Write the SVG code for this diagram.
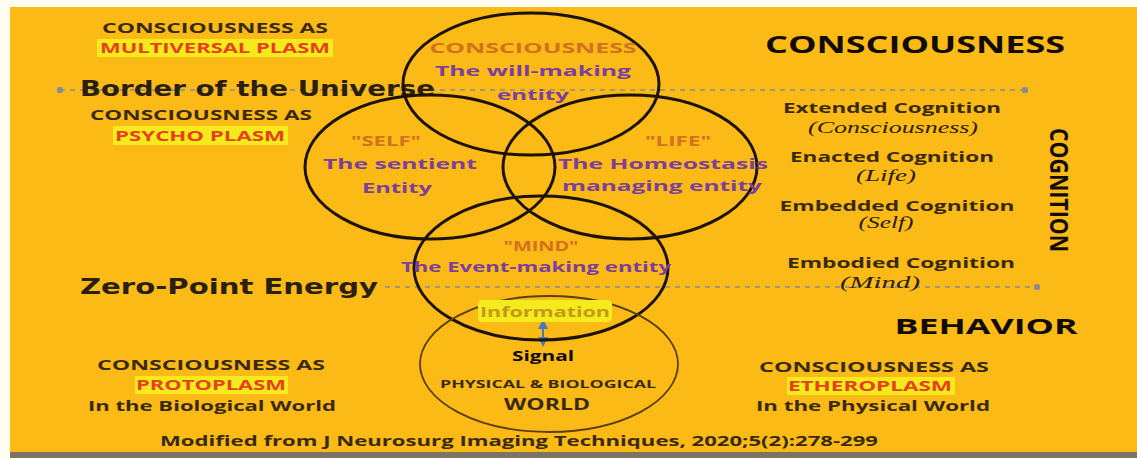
<svg xmlns="http://www.w3.org/2000/svg" width="1137" height="458" viewBox="0 0 1137 458">
<defs>
<style>
.b{font-family:"Open Sans","Liberation Sans",sans-serif;font-weight:bold;fill:#3a2a0c;text-anchor:middle}
.h{font-family:"Open Sans","Liberation Sans",sans-serif;font-weight:bold;fill:#120c04;text-anchor:middle}
.r{font-family:"Open Sans","Liberation Sans",sans-serif;font-weight:bold;fill:#e8401c;text-anchor:middle}
.o{font-family:"Open Sans","Liberation Sans",sans-serif;font-weight:bold;fill:#d2711e;text-anchor:middle}
.p{font-family:"Open Sans","Liberation Sans",sans-serif;font-weight:bold;fill:#7b3f9c;text-anchor:middle}
.i{font-family:"Liberation Serif",serif;font-style:italic;fill:#2a1e08;text-anchor:middle}
.hw{font-family:"DejaVu Sans","Liberation Sans",sans-serif;font-weight:bold;fill:#2a2010}
.hl{fill:#f4ea1c}
.ring{fill:none;stroke:#1c1208;stroke-width:3}
.dash{fill:none;stroke:#8c8a94;stroke-width:1.6;stroke-dasharray:5 5}
</style>
<marker id="dot" viewBox="0 0 6 6" refX="3" refY="3" markerWidth="4" markerHeight="4"><circle cx="3" cy="3" r="3" fill="#8c8a94"/></marker>
<marker id="ah" viewBox="0 0 10 10" refX="5" refY="5" markerWidth="5" markerHeight="5" orient="auto-start-reverse"><path d="M0,0 L10,5 L0,10 z" fill="#4a78b8"/></marker>
</defs>
<rect x="0" y="0" width="1137" height="458" fill="#fffdf2"/>
<rect x="10" y="7" width="1127" height="446" fill="#fbba16"/>
<rect x="10" y="452" width="1127" height="6" fill="#7c7462"/>

<g id="connectors">
<line class="dash" x1="60" y1="90" x2="1025" y2="90" marker-start="url(#dot)" marker-end="url(#dot)"/>
<line class="dash" x1="385" y1="287" x2="1037" y2="287" marker-end="url(#dot)"/>
<line x1="543" y1="324" x2="543" y2="342" stroke="#4a78b8" stroke-width="2" marker-start="url(#ah)" marker-end="url(#ah)"/>
</g>

<g id="labels-left">
<text class="b" x="215" y="33" font-size="15" textLength="226" lengthAdjust="spacingAndGlyphs">CONSCIOUSNESS  AS</text>
<rect class="hl" x="97" y="39" width="236" height="18"/>
<text class="r" x="215" y="53" font-size="15" textLength="230" lengthAdjust="spacingAndGlyphs">MULTIVERSAL PLASM</text>
<text class="hw" x="80" y="96" font-size="21" textLength="355" lengthAdjust="spacingAndGlyphs">Border of the Universe</text>
<text class="b" x="201" y="120" font-size="15" textLength="222" lengthAdjust="spacingAndGlyphs">CONSCIOUSNESS AS</text>
<rect class="hl" x="113" y="126" width="175" height="19"/>
<text class="r" x="200" y="141" font-size="15" textLength="170" lengthAdjust="spacingAndGlyphs">PSYCHO PLASM</text>
<text class="hw" x="80" y="294" font-size="21" textLength="298" lengthAdjust="spacingAndGlyphs">Zero-Point Energy</text>
<text class="b" x="211" y="370" font-size="15" textLength="228" lengthAdjust="spacingAndGlyphs">CONSCIOUSNESS  AS</text>
<rect class="hl" x="135" y="376" width="153" height="18"/>
<text class="r" x="211" y="390" font-size="15" textLength="150" lengthAdjust="spacingAndGlyphs">PROTOPLASM</text>
<text class="b" x="212" y="411" font-size="15" textLength="248" lengthAdjust="spacingAndGlyphs">In the Biological World</text>
</g>

<g id="labels-right">
<text class="h" x="915" y="53" font-size="23" textLength="300" lengthAdjust="spacingAndGlyphs">CONSCIOUSNESS</text>
<text class="h" x="0" y="0" font-size="25" textLength="124" lengthAdjust="spacingAndGlyphs" transform="translate(1050,190) rotate(90)">COGNITION</text>
<text class="b" x="892" y="113" font-size="15" textLength="218" lengthAdjust="spacingAndGlyphs">Extended Cognition</text>
<text class="i" x="893" y="133" font-size="17" textLength="170" lengthAdjust="spacingAndGlyphs">(Consciousness)</text>
<text class="b" x="892" y="162" font-size="15" textLength="204" lengthAdjust="spacingAndGlyphs">Enacted Cognition</text>
<text class="i" x="886" y="181" font-size="17" textLength="60" lengthAdjust="spacingAndGlyphs">(Life)</text>
<text class="b" x="897" y="211" font-size="15" textLength="235" lengthAdjust="spacingAndGlyphs">Embedded Cognition</text>
<text class="i" x="886" y="228" font-size="17" textLength="55" lengthAdjust="spacingAndGlyphs">(Self)</text>
<text class="b" x="901" y="268" font-size="15" textLength="228" lengthAdjust="spacingAndGlyphs">Embodied Cognition</text>
<text class="i" x="880" y="288" font-size="17" textLength="80" lengthAdjust="spacingAndGlyphs">(Mind)</text>
<text class="h" x="986" y="334" font-size="22" textLength="183" lengthAdjust="spacingAndGlyphs">BEHAVIOR</text>
<text class="b" x="874" y="372" font-size="15" textLength="230" lengthAdjust="spacingAndGlyphs">CONSCIOUSNESS  AS</text>
<rect class="hl" x="787" y="377" width="168" height="18"/>
<text class="r" x="870" y="391" font-size="15" textLength="164" lengthAdjust="spacingAndGlyphs">ETHEROPLASM</text>
<text class="b" x="873" y="411" font-size="15" textLength="234" lengthAdjust="spacingAndGlyphs">In the Physical World</text>
</g>

<g id="node-consciousness">
<ellipse class="ring" cx="531" cy="84" rx="128" ry="71"/>
<text class="o" x="533" y="53" font-size="15" textLength="207" lengthAdjust="spacingAndGlyphs">CONSCIOUSNESS</text>
<text class="p" x="533" y="76" font-size="15" textLength="196" lengthAdjust="spacingAndGlyphs">The will-making</text>
<text class="p" x="533" y="100" font-size="15" textLength="72" lengthAdjust="spacingAndGlyphs">entity</text>
</g>

<g id="node-self">
<ellipse class="ring" cx="430" cy="167" rx="125" ry="72"/>
<text class="o" x="386" y="146" font-size="15" textLength="70" lengthAdjust="spacingAndGlyphs">"SELF"</text>
<text class="p" x="400" y="169" font-size="15" textLength="154" lengthAdjust="spacingAndGlyphs">The sentient</text>
<text class="p" x="397" y="193" font-size="15" textLength="70" lengthAdjust="spacingAndGlyphs">Entity</text>
</g>

<g id="node-life">
<ellipse class="ring" cx="630" cy="167" rx="127" ry="72"/>
<text class="o" x="678" y="146" font-size="15" textLength="66" lengthAdjust="spacingAndGlyphs">"LIFE"</text>
<text class="p" x="663" y="169" font-size="15" textLength="210" lengthAdjust="spacingAndGlyphs">The Homeostasis</text>
<text class="p" x="662" y="191" font-size="15" textLength="200" lengthAdjust="spacingAndGlyphs">managing entity</text>
</g>

<g id="node-mind">
<ellipse class="ring" cx="541" cy="268" rx="127" ry="72"/>
<text class="o" x="541" y="251" font-size="15" textLength="75" lengthAdjust="spacingAndGlyphs">"MIND"</text>
<text class="p" x="536" y="272" font-size="15" textLength="270" lengthAdjust="spacingAndGlyphs">The Event-making entity</text>
</g>

<g id="node-world">
<ellipse cx="549" cy="364" rx="129" ry="68" fill="none" stroke="#5a3e10" stroke-width="1.8"/>
<rect class="hl" x="478" y="300" width="134" height="22" rx="4"/>
<text class="o" x="545" y="317" font-size="15" textLength="130" lengthAdjust="spacingAndGlyphs" style="fill:#c29a18">Information</text>
<text class="h" x="543" y="361" font-size="15" textLength="62" lengthAdjust="spacingAndGlyphs">Signal</text>
<text class="b" x="548" y="388" font-size="11" textLength="216" lengthAdjust="spacingAndGlyphs">PHYSICAL &amp; BIOLOGICAL</text>
<text class="b" x="547" y="410" font-size="16" textLength="86" lengthAdjust="spacingAndGlyphs">WORLD</text>
</g>

<text class="b" x="519" y="446" font-size="15" textLength="718" lengthAdjust="spacingAndGlyphs">Modified from J Neurosurg Imaging Techniques, 2020;5(2):278-299</text>
</svg>
